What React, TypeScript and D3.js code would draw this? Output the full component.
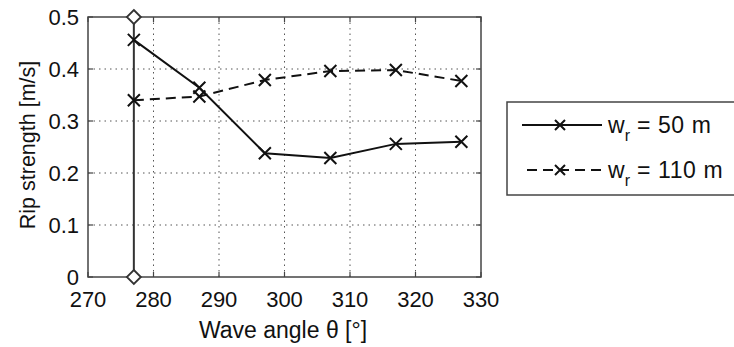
import React from 'react'
import * as d3 from 'd3'

// wave angle (deg) for both runs
const angles = [277, 287, 297, 307, 317, 327]
// rip strength, w_r = 50 m
const rip50 = [0.456, 0.364, 0.238, 0.229, 0.256, 0.26]
// rip strength, w_r = 110 m
const rip110 = [0.34, 0.347, 0.379, 0.396, 0.398, 0.377]
// marker line at the reference angle
const refAngle = 277
const xTicks = [270, 280, 290, 300, 310, 320, 330]
const yTicks = [0, 0.1, 0.2, 0.3, 0.4, 0.5]

const W = 734
const H = 347
const m = { left: 88, right: 481, top: 17, bottom: 277 }
const font = 'Liberation Sans, Arial, Helvetica, sans-serif'

const Cross = ({ x, y, s = 6 }: { x: number; y: number; s?: number }) => (
  <path d={`M${x - s},${y - s}L${x + s},${y + s}M${x - s},${y + s}L${x + s},${y - s}`} stroke="#111" strokeWidth={2} />
)

const Diamond = ({ x, y, s = 7 }: { x: number; y: number; s?: number }) => (
  <path d={`M${x},${y - s}L${x + s},${y}L${x},${y + s}L${x - s},${y}Z`} fill="white" stroke="#333" strokeWidth={1.8} />
)

export default function App() {
  const x = d3.scaleLinear().domain([270, 330]).range([m.left, m.right])
  const y = d3.scaleLinear().domain([0, 0.5]).range([m.bottom, m.top])

  const line = d3
    .line<number>()
    .x((_, i) => x(angles[i]))
    .y((d) => y(d))

  const legendX = 507
  const legendY = 102

  return (
    <svg width={W} height={H} style={{ position: 'absolute', left: 0, top: 0, background: 'white' }} fontFamily={font}>
      {/* grid */}
      {xTicks.slice(1, -1).map((t) => (
        <line key={'gx' + t} x1={x(t)} x2={x(t)} y1={m.top} y2={m.bottom} stroke="#555" strokeWidth={1} strokeDasharray="1.5,4" />
      ))}
      {yTicks.slice(1, -1).map((t) => (
        <line key={'gy' + t} x1={m.left} x2={m.right} y1={y(t)} y2={y(t)} stroke="#555" strokeWidth={1} strokeDasharray="1.5,4" />
      ))}

      {/* ticks, inward on all sides */}
      {xTicks.map((t) => (
        <g key={'tx' + t}>
          <line x1={x(t)} x2={x(t)} y1={m.bottom} y2={m.bottom - 5} stroke="#444" strokeWidth={1.2} />
          <line x1={x(t)} x2={x(t)} y1={m.top} y2={m.top + 5} stroke="#444" strokeWidth={1.2} />
          <text x={x(t)} y={307} textAnchor="middle" fontSize={22} fill="#111">
            {t}
          </text>
        </g>
      ))}
      {yTicks.map((t) => (
        <g key={'ty' + t}>
          <line x1={m.left} x2={m.left + 5} y1={y(t)} y2={y(t)} stroke="#444" strokeWidth={1.2} />
          <line x1={m.right} x2={m.right - 5} y1={y(t)} y2={y(t)} stroke="#444" strokeWidth={1.2} />
          <text x={79} y={y(t) + 8} textAnchor="end" fontSize={22} fill="#111">
            {t === 0 ? '0' : d3.format('.1f')(t)}
          </text>
        </g>
      ))}

      {/* frame */}
      <rect x={m.left} y={m.top} width={m.right - m.left} height={m.bottom - m.top} fill="none" stroke="#444" strokeWidth={1.5} />

      {/* reference angle line */}
      <line x1={x(refAngle)} x2={x(refAngle)} y1={y(0)} y2={y(0.5)} stroke="#333" strokeWidth={2} />
      <Diamond x={x(refAngle)} y={y(0.5)} />
      <Diamond x={x(refAngle)} y={y(0)} />

      {/* series */}
      <path d={line(rip110) || ''} fill="none" stroke="#111" strokeWidth={2} strokeDasharray="10,6" />
      {rip110.map((v, i) => (
        <Cross key={'b' + i} x={x(angles[i])} y={y(v)} />
      ))}
      <path d={line(rip50) || ''} fill="none" stroke="#111" strokeWidth={2} />
      {rip50.map((v, i) => (
        <Cross key={'a' + i} x={x(angles[i])} y={y(v)} />
      ))}

      {/* axis labels */}
      <text x={283} y={338} textAnchor="middle" fontSize={23} fill="#111">
        Wave angle θ [°]
      </text>
      <text transform={`translate(35,${(m.top + m.bottom) / 2 - 2}) rotate(-90)`} textAnchor="middle" fontSize={21.5} fill="#111">
        Rip strength [m/s]
      </text>

      {/* legend */}
      <rect x={legendX} y={legendY} width={260} height={93} fill="white" stroke="#444" strokeWidth={1.5} />
      <line x1={522} x2={602} y1={125} y2={125} stroke="#111" strokeWidth={2} />
      <Cross x={560} y={125} s={5} />
      <text x={608} y={133} fontSize={23} fill="#111">
        w<tspan dy={8} fontSize={16}>r</tspan>
        <tspan dy={-8} letterSpacing={0.6}> = 50 m</tspan>
      </text>
      <line x1={527} x2={602} y1={170} y2={170} stroke="#111" strokeWidth={2} strokeDasharray="10,6" />
      <Cross x={560} y={170} s={5} />
      <text x={608} y={178} fontSize={23} fill="#111">
        w<tspan dy={8} fontSize={16}>r</tspan>
        <tspan dy={-8} letterSpacing={0.6}> = 110 m</tspan>
      </text>
    </svg>
  )
}
